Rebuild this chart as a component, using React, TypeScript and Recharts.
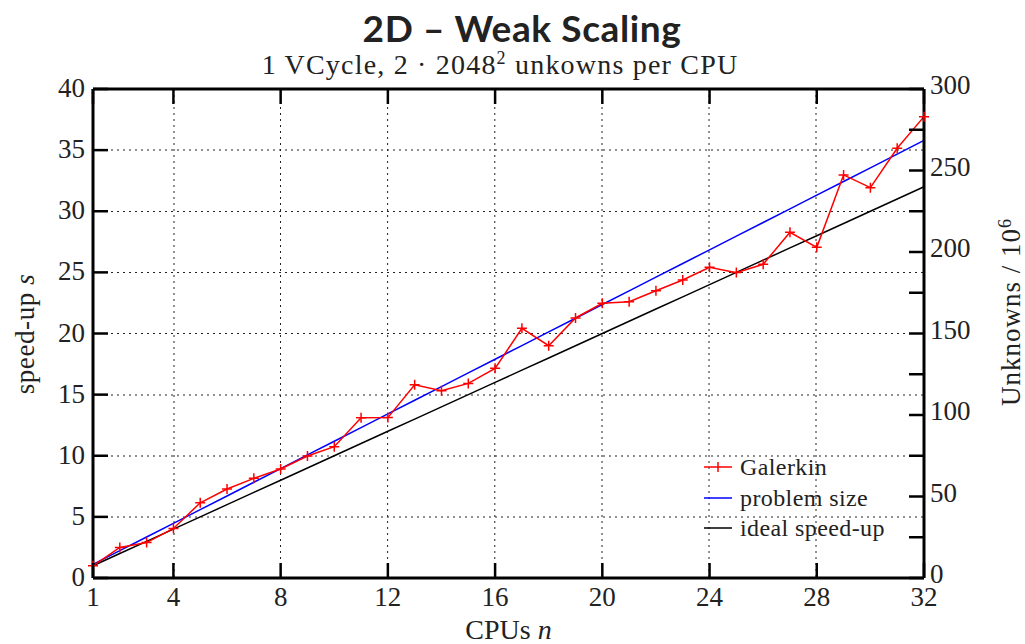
import React from 'react';
import { LineChart, Line, XAxis, YAxis, CartesianGrid } from 'recharts';

const CPUS = [1, 2, 3, 4, 5, 6, 7, 8, 9, 10, 11, 12, 13, 14, 15, 16, 17, 18, 19, 20, 21, 22, 23, 24, 25, 26, 27, 28, 29, 30, 31, 32];
const GALERKIN = [1.0, 2.5, 2.9, 4.05, 6.15, 7.28, 8.15, 8.92, 9.98, 10.74, 13.1, 13.12, 15.8, 15.32, 15.92, 17.15, 20.42, 19.0, 21.27, 22.47, 22.6, 23.5, 24.38, 25.41, 24.98, 25.66, 28.28, 27.05, 32.97, 31.93, 35.15, 37.74];
const PROBLEM_SIZE = [8.39, 16.78, 25.17, 33.55, 41.94, 50.33, 58.72, 67.11, 75.5, 83.89, 92.27, 100.66, 109.05, 117.44, 125.83, 134.22, 142.61, 151.0, 159.38, 167.77, 176.16, 184.55, 192.94, 201.33, 209.72, 218.1, 226.49, 234.88, 243.27, 251.66, 260.05, 268.44];
const IDEAL = [1, 2, 3, 4, 5, 6, 7, 8, 9, 10, 11, 12, 13, 14, 15, 16, 17, 18, 19, 20, 21, 22, 23, 24, 25, 26, 27, 28, 29, 30, 31, 32];

const X_TICKS = [1, 4, 8, 12, 16, 20, 24, 28, 32];
const LEFT_TICKS = [0, 5, 10, 15, 20, 25, 30, 35, 40];
const RIGHT_TICKS = [0, 25, 50, 75, 100, 125, 150, 175, 200, 225, 250, 275, 300];

const data = CPUS.map((n, i) => ({ n, galerkin: GALERKIN[i], problem: PROBLEM_SIZE[i], ideal: IDEAL[i] }));

const SERIF = '"Liberation Serif", "DejaVu Serif", serif';
const TICK_LEN = 15;

const BottomTick = ({ x, y, payload }: any) => (
  <g>
    <line x1={x} x2={x} y1={y} y2={y - TICK_LEN} stroke="#000" strokeWidth={2.5} />
    <text x={x} y={y + 28} textAnchor="middle" fontFamily={SERIF} fontSize={27} fill="#222">{payload.value}</text>
  </g>
);

const TopTick = ({ x, y }: any) => (
  <line x1={x} x2={x} y1={y} y2={y + TICK_LEN} stroke="#000" strokeWidth={2.5} />
);

const LeftTick = ({ x, y, payload }: any) => (
  <g>
    <line x1={x} x2={x + TICK_LEN} y1={y} y2={y} stroke="#000" strokeWidth={2.5} />
    <text x={x - 8} y={y + 8} textAnchor="end" fontFamily={SERIF} fontSize={27} fill="#222">{payload.value}</text>
  </g>
);

const RightTick = ({ x, y, payload }: any) => (
  <g>
    <line x1={x} x2={x - TICK_LEN} y1={y} y2={y} stroke="#000" strokeWidth={2.5} />
    {payload.value % 50 === 0 && (
      <text x={x + 6} y={y + 5} textAnchor="start" fontFamily={SERIF} fontSize={27} fill="#222">{payload.value}</text>
    )}
  </g>
);

const PlusDot = ({ cx, cy }: any) => {
  if (cx == null || cy == null) return null;
  return <path d={`M${cx - 5},${cy}H${cx + 5}M${cx},${cy - 5}V${cy + 5}`} stroke="#ff0000" strokeWidth={1.5} fill="none" />;
};

export default function App() {
  return (
    <div style={{ position: 'absolute', left: 0, top: 0, width: 1025, height: 644, background: '#fff', overflow: 'hidden' }}>
      <div style={{ position: 'absolute', left: 0, width: 1044, top: 5, textAlign: 'center', fontFamily: 'Lato, "DejaVu Sans", sans-serif', fontWeight: 700, fontSize: 37, letterSpacing: 0.6, color: '#222' }}>
        2D – Weak Scaling
      </div>
      <div style={{ position: 'absolute', left: 0, width: 1000, top: 49, textAlign: 'center', fontFamily: SERIF, fontSize: 28, letterSpacing: 1.2, color: '#222' }}>
        1 VCycle, 2 · 2048<sup style={{ fontSize: 18, verticalAlign: 'top', lineHeight: 1 }}>2</sup> unkowns per CPU
      </div>

      <LineChart width={1025} height={644} data={data} margin={{ top: 79, right: 41, bottom: 26, left: 33 }}>
        <CartesianGrid stroke="#222" strokeDasharray="2 4" verticalPoints={[174, 280.5, 387.6, 494.8, 602, 709, 816]} horizontalPoints={[517, 456, 395, 333.5, 272.5, 211.5, 150]} />
        <XAxis dataKey="n" type="number" domain={[1, 32]} ticks={X_TICKS} interval={0} height={40}
          axisLine={{ stroke: '#000', strokeWidth: 3 }} tickLine={false} tickSize={0} tickMargin={0} tick={<BottomTick />} />
        <XAxis xAxisId="top" dataKey="n" type="number" domain={[1, 32]} ticks={X_TICKS} orientation="top" height={10}
          axisLine={{ stroke: '#000', strokeWidth: 3 }} tickLine={false} tickSize={0} tickMargin={0} tick={<TopTick />} />
        <YAxis yAxisId="left" type="number" domain={[0, 40]} ticks={LEFT_TICKS} interval={0} width={60}
          axisLine={{ stroke: '#000', strokeWidth: 3 }} tickLine={false} tickSize={0} tickMargin={0} tick={<LeftTick />} />
        <YAxis yAxisId="right" orientation="right" type="number" domain={[0, 300]} ticks={RIGHT_TICKS} interval={0} width={60}
          axisLine={{ stroke: '#000', strokeWidth: 3 }} tickLine={false} tickSize={0} tickMargin={0} tick={<RightTick />} />
        <Line yAxisId="left" dataKey="ideal" stroke="#000" strokeWidth={1.5} dot={false} isAnimationActive={false} />
        <Line yAxisId="right" dataKey="problem" stroke="#0000ff" strokeWidth={1.5} dot={false} isAnimationActive={false} />
        <Line yAxisId="left" dataKey="galerkin" stroke="#ff0000" strokeWidth={1.5} dot={<PlusDot />} activeDot={false} isAnimationActive={false} />
      </LineChart>

      <div style={{ position: 'absolute', left: 25, top: 334, width: 0, height: 0 }}>
        <div style={{ position: 'absolute', left: 0, top: 0, transform: 'translate(-50%, -50%) rotate(-90deg)', whiteSpace: 'nowrap', fontFamily: SERIF, fontSize: 27, letterSpacing: 0.6, color: '#222' }}>
          speed-up <i>s</i>
        </div>
      </div>
      <div style={{ position: 'absolute', left: 1011, top: 312, width: 0, height: 0 }}>
        <div style={{ position: 'absolute', left: 0, top: 0, transform: 'translate(-50%, -50%) rotate(-90deg)', whiteSpace: 'nowrap', fontFamily: SERIF, fontSize: 27, letterSpacing: 1, color: '#222' }}>
          Unknowns / 10<sup style={{ fontSize: 18, verticalAlign: 'top', lineHeight: 1 }}>6</sup>
        </div>
      </div>
      <div style={{ position: 'absolute', left: 0, width: 1017, top: 614, textAlign: 'center', fontFamily: SERIF, fontSize: 28, color: '#222' }}>
        CPUs <i>n</i>
      </div>

      <div style={{ position: 'absolute', left: 703, top: 452, fontFamily: SERIF, fontSize: 24, letterSpacing: 0.4, color: '#222', lineHeight: '30.5px' }}>
        {[
          { label: 'Galerkin', color: '#ff0000', plus: true },
          { label: 'problem size', color: '#0000ff', plus: false },
          { label: 'ideal speed-up', color: '#000', plus: false },
        ].map(item => (
          <div key={item.label} style={{ display: 'flex', alignItems: 'center' }}>
            <svg width={30} height={14} style={{ marginRight: 7 }}>
              <line x1={1} x2={29} y1={7} y2={7} stroke={item.color} strokeWidth={1.5} />
              {item.plus && <line x1={15} x2={15} y1={2} y2={12} stroke={item.color} strokeWidth={1.5} />}
            </svg>
            {item.label}
          </div>
        ))}
      </div>
    </div>
  );
}
